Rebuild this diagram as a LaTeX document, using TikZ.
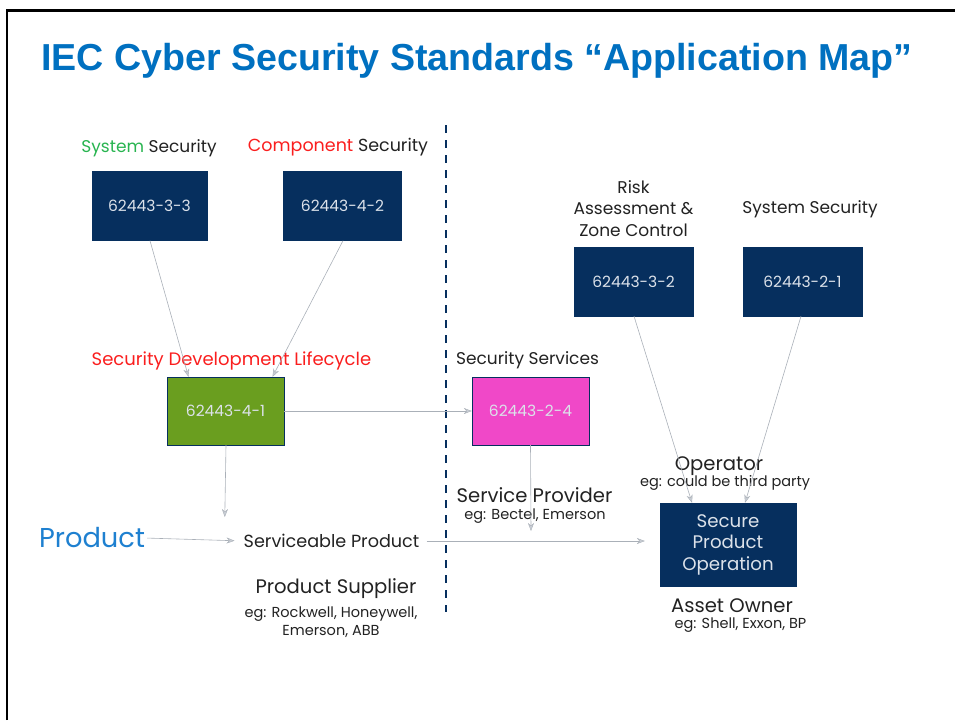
\documentclass[tikz,border=0pt]{standalone}
\usepackage{fontspec}
\setmainfont{Poppins}
\newfontfamily\headfont{Liberation Sans}
\usetikzlibrary{arrows.meta}

\begin{document}
\begin{tikzpicture}[x=1pt,y=-1pt,
    stdbox/.style={fill=boxcolor,draw=boxcolor,text=boxtext,minimum width=116pt,
      minimum height=69pt,inner sep=0pt,font=\fontsize{15.5}{19}\selectfont},
    lbl/.style={text=ink,inner sep=0pt,align=center,font=\fontsize{17}{21.5}\selectfont},
    big/.style={text=ink,inner sep=0pt,align=center,font=\fontsize{19.6}{22}\selectfont},
    note/.style={text=ink,inner sep=0pt,align=center,font=\fontsize{14.5}{18.5}\selectfont},
    link/.style={draw=linkcolor,line width=0.6pt,
      -{Stealth[length=8pt,width=6pt,fill=tipcolor,line width=0.4pt]}}]

    \definecolor{boxcolor}{RGB}{6,47,94}
    \definecolor{boxtext}{RGB}{220,226,234}
    \definecolor{ink}{RGB}{34,34,34}
    \definecolor{titleblue}{RGB}{0,112,192}
    \definecolor{prodblue}{RGB}{30,128,208}
    \definecolor{sdlred}{RGB}{250,30,30}
    \definecolor{sysgreen}{RGB}{40,180,80}
    \definecolor{sdlgreen}{RGB}{106,158,31}
    \definecolor{svcpink}{RGB}{240,72,200}
    \definecolor{linkcolor}{RGB}{170,176,184}
    \definecolor{tipcolor}{RGB}{200,205,212}

    \useasboundingbox (0,0) rectangle (955,720);

    % slide frame
    \draw[line width=2.5pt] (7,720) -- (7,10.5) -- (955,10.5);

    \node[anchor=base west,inner sep=0pt,text=titleblue,
      font=\headfont\bfseries\fontsize{37.6}{42}\selectfont] (title) at (41,70)
      {IEC Cyber Security Standards “Application Map”};

    % supplier / operator split
    \draw[boxcolor,line width=2.6pt,dash pattern=on 8pt off 7pt] (446,125) -- (446,612);

    % product supplier side
    \node[lbl] (syslbl) at (149,148) {\textcolor{sysgreen}{System} Security};
    \node[lbl,font=\fontsize{17.5}{21.5}\selectfont] (complbl) at (338,147)
      {\textcolor{sdlred}{Component} Security};
    \node[stdbox,minimum width=115pt] (s33) at (149.5,206) {62443-3-3};
    \node[stdbox,minimum width=118pt] (s42) at (342.5,206) {62443-4-2};

    \node[lbl,text=sdlred,font=\fontsize{18}{21.5}\selectfont] (sdllbl) at (231.5,361)
      {Security Development Lifecycle};
    \node[stdbox,fill=sdlgreen,minimum width=117pt,minimum height=68pt] (s41) at (225.5,411) {62443-4-1};

    \node[text=prodblue,inner sep=0pt,font=\fontsize{27.3}{30}\selectfont] (prod) at (92,538) {Product};
    \node[lbl,font=\fontsize{17.6}{21.5}\selectfont] (svcprod) at (331.5,541) {Serviceable Product};
    \node[big] (supplier) at (336,589) {Product Supplier};
    \node[note] (supplieg) at (331,622) {eg: Rockwell, Honeywell,\\Emerson, ABB};

    % service provider
    \node[lbl] (svclbl) at (527.5,360) {Security Services};
    \node[stdbox,fill=svcpink,minimum width=117pt,minimum height=68pt] (s24) at (530.5,411) {62443-2-4};
    \node[big] (provider) at (534.5,495) {Service Provider};
    \node[note] (providereg) at (535,516) {eg: Bectel, Emerson};

    % asset owner side
    \node[lbl] (risklbl) at (633.5,208.5) {Risk\\Assessment \&\\Zone Control};
    \node[lbl] (syslbl2) at (810,209) {System Security};
    \node[stdbox,minimum width=119pt] (s32) at (633.5,281.5) {62443-3-2};
    \node[stdbox,minimum width=119pt] (s21) at (802.5,281.5) {62443-2-1};

    \node[big] (operator) at (719,466) {Operator};
    \node[note] (operatoreg) at (725,483) {eg: could be third party};
    \node[stdbox,minimum width=136pt,minimum height=83pt,
      font=\fontsize{18.2}{21.5}\selectfont,align=center] (secure) at (728,544.5)
      {Secure\\Product\\Operation};
    \node[big] (owner) at (732,606) {Asset Owner};
    \node[note] (ownereg) at (740.5,625) {eg: Shell, Exxon, BP};

    \coordinate (svcjoin) at (531,531);

    % links
    \draw[link] ([xshift=0.5pt]s33.south) -- ([xshift=-37pt]s41.north);
    \draw[link] ([xshift=0.5pt]s42.south) -- ([xshift=47pt]s41.north);
    \draw[link] (s41.east) -- (s24.west);
    \draw[link,shorten >=17pt] ([xshift=0.5pt]s41.south) -- ([xshift=-107pt]svcprod.north);
    \draw[link,shorten <=2pt,shorten >=9pt] (prod.east) -- (svcprod.west);
    \draw[link,shorten <=7pt,shorten >=15pt] (svcprod.east) -- (secure.west |- svcprod.east);
    \draw[link] (s24.south) -- (svcjoin);
    \draw[link] ([xshift=0.5pt]s32.south) -- ([xshift=-36pt]secure.north);
    \draw[link] ([xshift=-1.5pt]s21.south) -- ([xshift=17pt]secure.north);

\end{tikzpicture}
\end{document}
